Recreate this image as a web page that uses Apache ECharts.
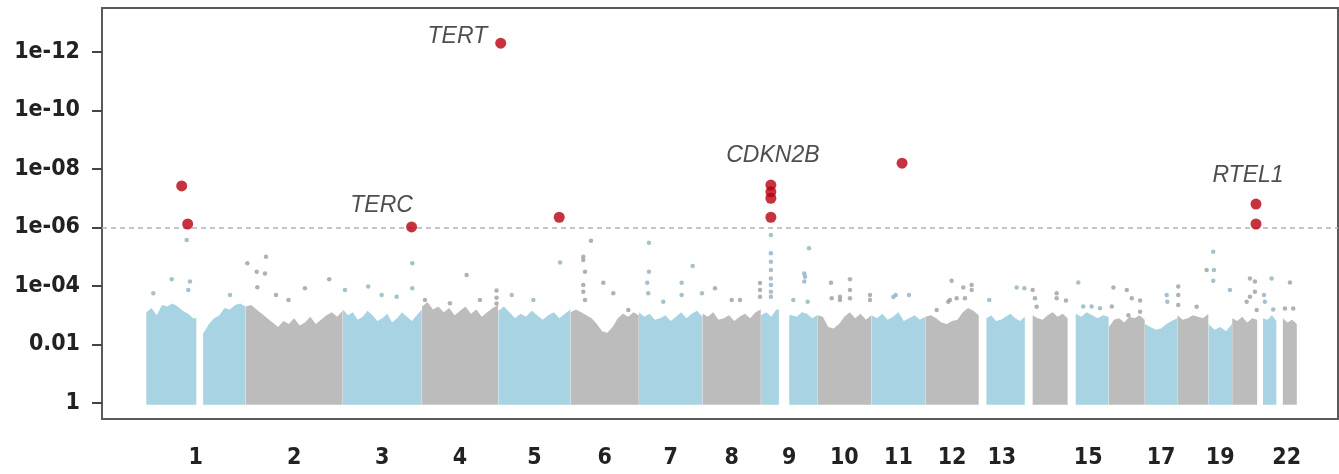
<!DOCTYPE html>
<html>
<head>
<meta charset="utf-8">
<script src="https://cdn.jsdelivr.net/npm/echarts@6/dist/echarts.min.js"></script>
<style>
  html, body { margin: 0; padding: 0; background: #ffffff; }
  #chart { width: 1339px; height: 474px; }
</style>
</head>
<body>
<div id="chart"></div>
<script>
// ---- Genome layout (GRCh37, Mb) ----
const chromNames   = ['1','2','3','4','5','6','7','8','9','10','11','12','13','14','15','16','17','18','19','20','21','22'];
const chromLengths = [249.3, 243.2, 198.0, 191.2, 180.9, 171.1, 159.1, 146.4, 141.2, 135.5, 135.0, 133.9, 115.2, 107.3, 102.5, 90.4, 81.2, 78.1, 59.1, 63.0, 48.1, 51.3];
// first / last genotyped position on each chromosome (acrocentric p-arms carry no SNPs)
const dataStart = [0.8, 0.5, 0.5, 0.5, 0.5, 0.5, 0.5, 0.5, 0.5, 0.5, 0.5, 0.5, 19.0, 19.5, 20.0, 0.5, 0.5, 0.5, 0.5, 0.5, 14.5, 16.0];
const dataEnd   = [249.0, 242.8, 197.7, 190.9, 180.6, 170.8, 158.8, 146.1, 141.0, 135.2, 134.7, 133.6, 115.0, 107.0, 102.2, 90.1, 80.9, 77.8, 58.8, 62.8, 47.9, 51.0];
// heterochromatin blocks without markers: [chromosome, from Mb, to Mb]
const dataGaps = [[1, 126, 143], [9, 45, 71]];

// chromosomes named under the x axis
const axisChroms = ['1','2','3','4','5','6','7','8','9','10','11','12','13','15','17','19','22'];

// y axis: -log10(p)
const yTickValues = [0, 2, 4, 6, 8, 10, 12];
const yTickLabels = ['1', '0.01', '1e-04', '1e-06', '1e-08', '1e-10', '1e-12'];
const genomeWideLine = 6; // p = 1e-06

// upper edge of the dense SNP cloud, -log10(p), evenly spread over each chromosome's genotyped span
const cloudTop = [
  [3.1, 3.25, 3.0, 3.35, 3.3, 3.4, 3.3, 3.15, 3.05, 2.9, 2.9, 2.4, 2.7, 2.9, 3.0, 3.25, 3.2, 3.35, 3.4, 3.3],   // 1
  [3.3, 3.35, 3.2, 3.05, 2.9, 2.75, 2.6, 2.8, 2.7, 2.9, 2.65, 2.75, 2.95, 2.7, 2.85, 3.0, 3.1, 2.95, 3.15],    // 2
  [3.2, 3.0, 3.1, 2.85, 2.95, 3.15, 3.0, 2.8, 2.9, 3.05, 2.75, 2.9, 3.1, 2.95, 2.8, 3.0, 3.2],                // 3
  [3.3, 3.45, 3.2, 3.3, 3.1, 3.25, 3.0, 3.15, 3.3, 3.05, 3.2, 2.95, 3.1, 3.25, 3.35],                         // 4
  [3.15, 3.3, 3.1, 2.9, 3.05, 2.95, 3.15, 3.0, 2.85, 3.0, 3.1, 2.9, 3.05, 3.2],                               // 5
  [3.1, 3.2, 3.1, 3.0, 2.9, 2.7, 2.45, 2.4, 2.6, 2.9, 3.05, 2.95, 3.1, 3.0],                                  // 6
  [3.1, 2.95, 3.05, 2.85, 2.9, 3.0, 2.8, 2.95, 3.1, 2.9, 3.05, 3.15, 2.95],                                   // 7
  [3.05, 2.95, 3.1, 2.85, 2.9, 3.0, 2.8, 2.95, 3.05, 2.9, 3.1, 3.2],                                          // 8
  [3.0, 3.1, 2.95, 3.2, 2.9, 2.8, 3.0, 2.95, 3.1, 3.05, 2.9, 3.0],                                            // 9
  [3.0, 2.95, 2.6, 2.55, 2.7, 2.95, 3.1, 2.9, 3.05, 2.85, 3.0],                                               // 10
  [3.0, 2.9, 3.05, 2.85, 2.95, 3.1, 2.8, 2.9, 3.0, 2.85, 2.95],                                               // 11
  [2.95, 3.0, 2.9, 2.75, 2.7, 2.8, 2.85, 3.1, 3.25, 3.15, 3.0],                                               // 12
  [2.9, 3.0, 2.8, 2.85, 2.95, 3.05, 2.9, 2.8, 2.95],                                                          // 13
  [3.0, 2.9, 2.85, 3.0, 3.1, 2.95, 3.05, 2.9],                                                                // 14
  [3.05, 2.95, 3.1, 3.0, 2.9, 3.0, 2.95],                                                                     // 15
  [2.6, 2.85, 2.9, 2.75, 2.95, 2.9, 3.0, 2.85],                                                               // 16
  [2.7, 2.6, 2.5, 2.55, 2.7, 2.8, 2.9],                                                                       // 17
  [3.0, 2.85, 2.9, 3.0, 2.95, 2.9, 3.05],                                                                     // 18
  [2.7, 2.5, 2.6, 2.45, 2.7],                                                                                 // 19
  [2.9, 2.8, 2.95, 2.75, 2.9, 2.85],                                                                          // 20
  [2.9, 2.85, 3.0, 2.8],                                                                                      // 21
  [2.9, 2.75, 2.85, 2.7]                                                                                      // 22
];

// individual SNPs standing above the cloud: [chromosome, position Mb, -log10(p)]
const strayHits = [
  [1, 101.9, 5.57], [1, 64.3, 4.23], [1, 18.3, 3.75], [1, 110.1, 4.15], [1, 105.9, 3.86], [1, 210.3, 3.69],
  [2, 4.3, 4.78], [2, 51.1, 5.0], [2, 27.8, 4.49], [2, 48.6, 4.43], [2, 29.3, 3.96], [2, 76.1, 3.69],
  [2, 148.6, 3.92], [2, 209.3, 4.23], [2, 107.4, 3.52],
  [3, 174.0, 4.78], [3, 174.0, 3.92], [3, 63.8, 3.98], [3, 5.5, 3.86], [3, 97.4, 3.69], [3, 134.9, 3.63],
  [4, 7.8, 3.52], [4, 112.1, 4.38], [4, 187.0, 3.85], [4, 187.0, 3.6], [4, 187.0, 3.4], [4, 70.3, 3.41], [4, 145.4, 3.52],
  [5, 33.8, 3.69], [5, 154.7, 4.8], [5, 87.9, 3.52],
  [6, 51.3, 5.55], [6, 32.0, 5.0], [6, 32.0, 4.89], [6, 36.3, 4.49], [6, 32.0, 4.03], [6, 32.0, 3.8], [6, 36.3, 3.52],
  [6, 82.1, 4.11], [6, 107.1, 3.75], [6, 144.7, 3.18],
  [7, 25.3, 5.48], [7, 25.3, 4.49], [7, 21.0, 4.11], [7, 23.5, 3.75], [7, 134.7, 4.68], [7, 107.1, 4.11],
  [7, 107.1, 3.69], [7, 61.1, 3.46], [7, 158.0, 3.75],
  [8, 31.5, 3.92], [8, 94.1, 3.52], [8, 73.3, 3.52], [8, 144.2, 4.1], [8, 144.2, 3.86], [8, 144.2, 3.63],
  [9, 25.0, 5.74], [9, 25.0, 5.12], [9, 25.0, 4.83], [9, 25.0, 4.55], [9, 25.0, 4.26], [9, 25.0, 4.03],
  [9, 25.0, 3.8], [9, 25.0, 3.63], [9, 120.4, 5.29], [9, 108.6, 4.43], [9, 108.6, 4.15], [9, 110.5, 4.32],
  [9, 81.1, 3.52], [9, 117.1, 3.46],
  [10, 34.3, 4.11], [10, 81.8, 4.23], [10, 81.8, 3.86], [10, 81.8, 3.58], [10, 56.8, 3.63], [10, 56.8, 3.52],
  [10, 36.0, 3.58], [10, 131.9, 3.69], [10, 131.9, 3.52],
  [11, 60.8, 3.69], [11, 94.1, 3.69], [11, 54.8, 3.62],
  [12, 28.3, 3.18], [12, 65.8, 4.18], [12, 94.9, 3.95], [12, 115.9, 4.03], [12, 115.9, 3.86], [12, 78.3, 3.58],
  [12, 61.6, 3.52], [12, 99.1, 3.58], [12, 57.3, 3.46],
  [13, 26.0, 3.52], [13, 94.6, 3.95], [13, 114.0, 3.92],
  [14, 19.5, 3.86], [14, 25.3, 3.58], [14, 29.5, 3.29], [14, 79.6, 3.75], [14, 79.6, 3.58], [14, 102.9, 3.5],
  [15, 26.3, 4.12], [15, 38.8, 3.3], [15, 59.8, 3.3], [15, 80.6, 3.24],
  [16, 7.8, 3.3], [16, 11.8, 3.95], [16, 45.3, 3.86], [16, 57.8, 3.58], [16, 78.6, 3.5], [16, 78.6, 3.12], [16, 49.3, 3.0],
  [17, 54.8, 3.69], [17, 56.3, 3.46],
  [18, 2.5, 3.98], [18, 2.5, 3.69], [18, 2.5, 3.35], [18, 48.6, 3.29], [18, 73.6, 4.55],
  [19, 12.0, 5.17], [19, 13.8, 4.55], [19, 12.0, 4.18], [19, 53.8, 3.86],
  [20, 44.8, 4.26], [20, 57.3, 4.15], [20, 57.3, 3.8], [20, 44.8, 3.63], [20, 36.5, 3.46], [20, 61.6, 3.18],
  [21, 16.8, 3.69], [21, 19.3, 3.46], [21, 36.0, 4.26], [21, 40.0, 3.2],
  [22, 33.8, 4.12], [22, 21.3, 3.23], [22, 42.1, 3.23]
];

// genome-wide significant SNPs: [chromosome, position Mb, -log10(p), gene]
const topHits = [
  [1, 89.4, 7.42, ''], [1, 104.4, 6.12, ''],
  [3, 172.3, 6.02, 'TERC'],
  [5, 6.2, 12.3, 'TERT'], [5, 152.7, 6.35, ''],
  [9, 25.0, 7.45, 'CDKN2B'], [9, 25.0, 7.22, ''], [9, 25.0, 7.0, ''], [9, 25.0, 6.35, ''],
  [11, 76.7, 8.2, ''],
  [20, 59.9, 6.8, 'RTEL1'], [20, 59.9, 6.12, '']
];

// ---- styling ----
const oddColor = '#a7d3e2', evenColor = '#bcbcbc';
const oddDot = '#8fb2c2', evenDot = '#9e9e9e';
const hitColor = '#b8000e';
const tickFont = 'DejaVu Sans Condensed, Liberation Sans Narrow, sans-serif';
const geneLabelPlacement = {
  TERT:   { position: 'left', offset: [-3, -7] },
  TERC:   { position: 'top',  offset: [-30, 1] },
  CDKN2B: { position: 'top',  offset: [2, -7] },
  RTEL1:  { position: 'top',  offset: [-8, -6] }
};

// cumulative chromosome offsets on the genome axis
const chromOffset = [];
chromLengths.reduce((acc, len, i) => { chromOffset[i] = acc; return acc + len; }, 0);
const genomeX = (chr, pos) => chromOffset[chr - 1] + pos;

// chromosome label centres
const centreName = new Map();
const labelCentres = axisChroms.map(name => {
  const i = chromNames.indexOf(name);
  const c = chromOffset[i] + chromLengths[i] / 2;
  centreName.set(c.toFixed(2), name);
  return c;
});

// contiguous genotyped segments per chromosome
const cloudSegments = [];
chromNames.forEach((_, i) => {
  let s = dataStart[i];
  dataGaps.filter(g => g[0] === i + 1).forEach(g => {
    cloudSegments.push([i, s, g[1]]);
    s = g[2];
  });
  cloudSegments.push([i, s, dataEnd[i]]);
});

const cloudBase = -0.06;
function renderCloud(params, api) {
  const ci = api.value(0), s = api.value(1), e = api.value(2);
  const env = cloudTop[ci], n = env.length;
  const a = dataStart[ci], b = dataEnd[ci], step = (b - a) / (n - 1);
  const off = chromOffset[ci];
  const near = x => env[Math.max(0, Math.min(n - 1, Math.round((x - a) / step)))];
  const pts = [api.coord([off + s, cloudBase]), api.coord([off + s, near(s)])];
  for (let k = 0; k < n; k++) {
    const x = a + k * step;
    if (x > s && x < e) pts.push(api.coord([off + x, env[k]]));
  }
  pts.push(api.coord([off + e, near(e)]));
  pts.push(api.coord([off + e, cloudBase]));
  return {
    type: 'polygon',
    shape: { points: pts },
    style: { fill: ci % 2 === 0 ? oddColor : evenColor }
  };
}

const strayOdd = strayHits.filter(d => d[0] % 2 === 1).map(d => [genomeX(d[0], d[1]), d[2]]);
const strayEven = strayHits.filter(d => d[0] % 2 === 0).map(d => [genomeX(d[0], d[1]), d[2]]);

const hitData = topHits.map(d => {
  const item = { value: [genomeX(d[0], d[1]), d[2]] };
  if (d[3]) {
    const p = geneLabelPlacement[d[3]];
    item.label = { show: true, formatter: d[3], position: p.position, offset: p.offset };
  }
  return item;
});

// x range chosen so the genome sits inside the frame with a left margin
const xMin = -110.1, xMax = 2983.8;
const yMin = -0.547, yMax = 13.504;

const chart = echarts.init(document.getElementById('chart'), null, { renderer: 'canvas' });
chart.setOption({
  animation: false,
  backgroundColor: '#ffffff',
  grid: {
    left: 102, right: 1, top: 8, bottom: 55,
    show: true, borderColor: '#5a5a5a', borderWidth: 2,
    outerBoundsMode: 'none'
  },
  xAxis: {
    type: 'value', min: xMin, max: xMax,
    axisLine: { show: false, onZero: false }, axisTick: { show: false }, splitLine: { show: false },
    axisLabel: {
      customValues: labelCentres,
      formatter: v => centreName.get(Number(v).toFixed(2)) || '',
      margin: 28, fontSize: 23, fontWeight: 'bold', fontFamily: tickFont, color: '#222'
    }
  },
  yAxis: {
    type: 'value', min: yMin, max: yMax,
    axisLine: { show: false, onZero: false }, splitLine: { show: false },
    axisTick: { show: true, customValues: yTickValues, length: 10, lineStyle: { color: '#444', width: 2 } },
    axisLabel: {
      customValues: yTickValues,
      formatter: v => yTickLabels[yTickValues.indexOf(Math.round(v))],
      margin: 22, fontSize: 23, fontWeight: 'bold', fontFamily: tickFont, color: '#222'
    }
  },
  series: [
    {
      type: 'custom', name: 'cloud',
      renderItem: renderCloud,
      data: cloudSegments,
      encode: { x: 1, y: 2 },
      silent: true, z: 1
    },
    {
      type: 'scatter', name: 'stray-odd', data: strayOdd,
      symbolSize: 4.5, itemStyle: { color: oddDot }, silent: true, z: 2,
      markLine: {
        silent: true, symbol: ['none', 'none'], label: { show: false },
        lineStyle: { color: '#b3b3b3', width: 1.5, type: [5, 4] },
        data: [{ yAxis: genomeWideLine }]
      }
    },
    {
      type: 'scatter', name: 'stray-even', data: strayEven,
      symbolSize: 4.5, itemStyle: { color: evenDot }, silent: true, z: 2
    },
    {
      type: 'scatter', name: 'hits', data: hitData,
      symbolSize: 11, itemStyle: { color: hitColor }, z: 5,
      label: {
        show: false, fontFamily: 'Liberation Sans, Arial, sans-serif', fontStyle: 'italic',
        fontSize: 23, color: '#222'
      }
    }
  ]
});
</script>
</body>
</html>
